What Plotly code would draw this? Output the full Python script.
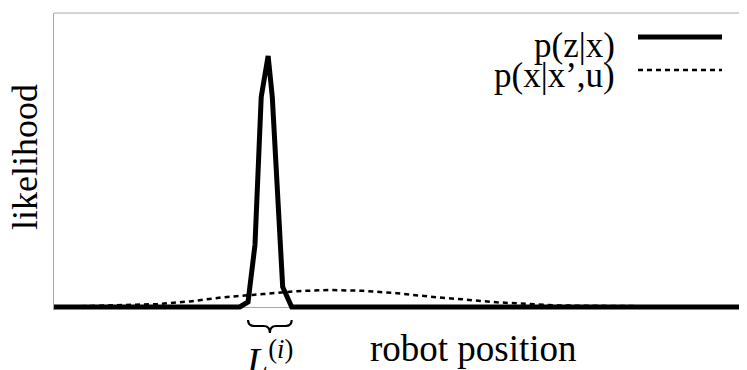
import plotly.graph_objects as go

# robot position (0..100 scale) and likelihood values (0..1 scale)
meas_x = [0, 26.8, 28.0, 29.0, 29.9, 30.9, 31.5, 33.0, 34.3, 100]
meas_y = [0, 0, 0.017, 0.211, 0.714, 0.854, 0.714, 0.068, 0, 0]

motion_x = [0, 8.1, 14.9, 19.6, 24.4, 30.2, 35.1, 39.8, 44.6, 49.5, 54.3, 59.0, 63.9, 68.7, 73.0, 100]
motion_y = [0, 0.005, 0.010, 0.019, 0.033, 0.044, 0.054, 0.058, 0.055, 0.047, 0.035, 0.026, 0.016, 0.010, 0.005, 0]

legend_names = ["p(z|x)", "p(x|x\u2019,u)"]
x_title = "robot position"
y_title = "likelihood"
brace_label = "<i>L</i><sup>(<i>i</i>)</sup>"
brace_from, brace_to = 28.0, 34.3

FONT = "Liberation Serif"
GRAY = "#a8a8a8"

fig = go.Figure()
fig.add_trace(go.Scatter(x=motion_x, y=motion_y, mode="lines", name=legend_names[1],
                         line=dict(color="black", width=2.5, dash="5px,4px"), showlegend=False))
fig.add_trace(go.Scatter(x=meas_x, y=meas_y, mode="lines", name=legend_names[0],
                         line=dict(color="black", width=5), showlegend=False))

shapes = []
# top frame line
shapes.append(dict(type="line", xref="paper", yref="paper", x0=0, x1=1, y0=1, y1=1,
                   line=dict(color=GRAY, width=1)))
# custom legend samples
shapes.append(dict(type="line", xref="paper", yref="paper", x0=0.8427, x1=0.9639, y0=0.919, y1=0.919,
                   line=dict(color="black", width=5)))
shapes.append(dict(type="line", xref="paper", yref="paper", x0=0.8427, x1=0.9639, y0=0.808, y1=0.808,
                   line=dict(color="black", width=2.5, dash="5px,4px")))
# underbrace
x0, x1 = brace_from, brace_to
xc = (x0 + x1) / 2
r = 0.9
yt, ym, yb = -0.0337, -0.0539, -0.0774
path = (f"M {x0},{yt} Q {x0},{ym} {x0 + r},{ym} L {xc - r},{ym} Q {xc},{ym} {xc},{yb} "
        f"Q {xc},{ym} {xc + r},{ym} L {x1 - r},{ym} Q {x1},{ym} {x1},{yt}")
shapes.append(dict(type="path", xref="x", yref="paper", path=path,
                   line=dict(color="black", width=2.2)))

annotations = [
    dict(text=legend_names[0], xref="paper", yref="paper", x=0.8124, y=0.892,
         xanchor="right", yanchor="middle", showarrow=False, font=dict(family=FONT, size=35, color="black")),
    dict(text=legend_names[1], xref="paper", yref="paper", x=0.8124, y=0.791,
         xanchor="right", yanchor="middle", showarrow=False, font=dict(family=FONT, size=35, color="black")),
    dict(text=y_title, xref="paper", yref="paper", x=-0.0418, y=0.515, textangle=-90,
         xanchor="center", yanchor="middle", showarrow=False, font=dict(family=FONT, size=36, color="black")),
    dict(text=x_title, xref="paper", yref="paper", x=0.605, y=-0.128,
         xanchor="center", yanchor="middle", showarrow=False, font=dict(family=FONT, size=37, color="black")),
    dict(text=brace_label, xref="x", yref="paper", x=xc, y=-0.074,
         xanchor="center", yanchor="top", showarrow=False, font=dict(family=FONT, size=38, color="black")),
]

# the page adds an 8px body margin, so the figure is 8px smaller than the window
fig.update_layout(
    width=739, height=362,
    margin=dict(l=46, r=0, t=5, b=60),
    paper_bgcolor="white", plot_bgcolor="white",
    shapes=shapes, annotations=annotations,
    showlegend=False,
    xaxis=dict(range=[0, 100], showgrid=False, zeroline=False, showline=False,
               showticklabels=False, ticks=""),
    yaxis=dict(range=[-0.0102, 1.0], showgrid=False, zeroline=True, zerolinecolor=GRAY, zerolinewidth=1,
               showline=True, linecolor=GRAY, linewidth=1, showticklabels=False, ticks=""),
)

fig.write_html("out.html")
